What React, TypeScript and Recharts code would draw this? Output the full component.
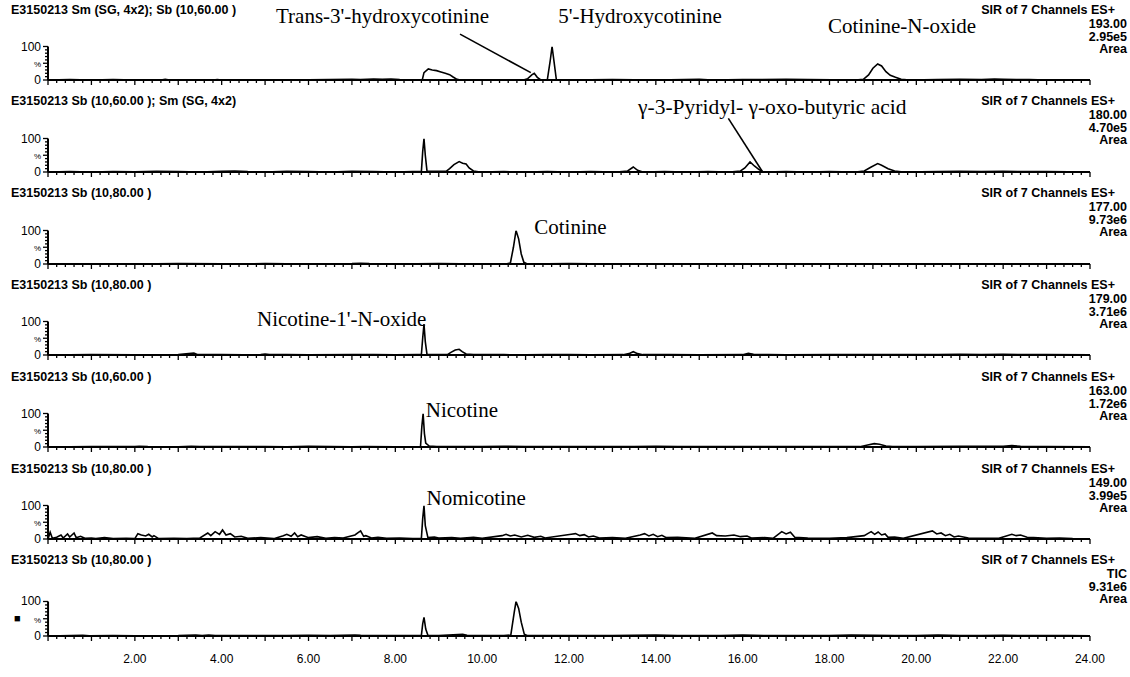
import React from 'react';
import { LineChart, Line, XAxis, YAxis, ReferenceLine } from 'recharts';

// ---------- data (time in min, relative intensity %) ----------
const ch193: number[][] = [
  [0,0],[0.5,1],[1,0],[1.5,1],[2,0],[2.6,0],[2.7,2],[2.8,0],[3.8,0],[3.9,1.5],[4.0,0],[5.5,0],[6.5,1],[7.0,2],[7.2,1],[7.5,3],[7.7,2],[7.9,3],[8.1,1],[8.5,0],
  [8.62,0],[8.66,22],[8.76,33],[8.85,30],[8.95,28],[9.05,24],[9.15,20],[9.25,16],[9.33,9],[9.42,2],[9.5,0],
  [10.95,0],[11.05,4],[11.15,16],[11.2,20],[11.27,8],[11.35,0],
  [11.5,0],[11.57,60],[11.61,100],[11.65,60],[11.71,0],
  [12,0],[13,1],[14.0,0],[15,2],[15.3,0],[16,1],[17,2],[17.5,1],[18.6,0],
  [18.78,2],[18.9,15],[19.0,35],[19.11,48],[19.2,42],[19.3,25],[19.4,14],[19.52,8],[19.65,2],[19.85,0],
  [20.5,1],[21,2],[21.5,1],[21.8,3],[22.0,2],[22.3,1],[22.6,1],[23,0],[24,0],
];
const ch180: number[][] = [
  [0,0],[0.5,1],[1,0],[1.5,1.5],[2,0.5],[2.5,2],[3,1],[3.5,0],[4,2],[4.3,3],[4.6,1],[5,0],[5.5,2],[6,1],[6.5,0],[7,2],[7.5,1],[8,0],[8.4,1],
  [8.6,1],[8.63,60],[8.66,100],[8.69,50],[8.73,2],
  [9.17,2],[9.25,10],[9.35,22],[9.47,31],[9.55,26],[9.63,24],[9.7,12],[9.8,3],[9.95,0],[10.5,1],[11,0],[11.5,1],[12,0],[12.5,1],[13.1,0],
  [13.35,3],[13.48,15],[13.58,5],[13.7,0],[14.2,1],[14.7,0],[15.2,1],[15.7,0],[15.95,3],[16.05,12],[16.17,30],[16.27,18],[16.37,8],[16.47,0],
  [17,1],[17.5,0],[18,1],[18.6,0],[18.8,3],[18.95,14],[19.11,25],[19.2,20],[19.35,10],[19.5,3],[19.7,0],[20.5,1],[21,2],[21.5,1],[22,2],[22.5,1],[23,1],[24,0],
];
const ch177: number[][] = [
  [0,0],[2,0],[3,1],[4,0.5],[5,1],[6,0],[7,1],[7.2,2],[7.4,1],[8,0],[9,1],[10,0],[10.55,0],
  [10.65,3],[10.72,50],[10.78,100],[10.84,75],[10.9,30],[10.96,5],[11.04,0],
  [12,1],[13,0],[14,0],[16,0.5],[18,0],[20,0],[22,0.5],[24,0],
];
const ch179: number[][] = [
  [0,0],[1,1],[2,0.5],[3,1],[3.36,6],[3.45,1],[4,1],[4.5,0.5],[4.9,1],[5.0,3],[5.1,1],[5.5,1],[6,0.5],[7,1],[7.5,1.5],[8,0.5],[8.5,1],
  [8.6,1],[8.63,50],[8.66,92],[8.69,40],[8.73,1],[9.2,1],[9.28,8],[9.38,15],[9.47,17],[9.54,10],[9.63,3],[9.8,1],
  [10.5,1],[11,0.5],[11.5,1],[12,1],[12.5,0.5],[13.25,1],[13.38,4],[13.48,10],[13.58,4],[13.7,1],[14.3,1],[15,0.5],[16.0,1],[16.13,5],[16.25,2],[16.6,1],[17,0.5],
  [18,1],[18.5,1.5],[19,1],[20,1],[20.5,1.5],[21,2],[21.5,1],[22,2],[22.5,1],[23,1],[24,0.5],
];
const ch163: number[][] = [
  [0,0],[1,1],[2,1],[2.1,2],[2.3,1],[3,0.5],[3.3,2],[3.5,1],[4.5,1],[5,1.5],[5.5,0.5],[6,2],[6.5,1],[7,0.5],[7.3,1.5],[8,0.5],[8.58,1],
  [8.61,60],[8.64,100],[8.67,40],[8.7,12],[8.78,3],[8.95,1],[9.5,1.5],[10,1],[10.5,2],[11,1],[11.5,1],[12,1.5],[12.5,1],[13,1],[13.5,1.5],[14,2],[14.5,1],
  [15,1],[16,1.5],[17,1],[18,1],[18.7,1],[18.88,6],[19.03,10],[19.15,8],[19.3,3],[19.45,1],[20,1.5],[21,2],[21.5,2],[22,2],[22.2,4],[22.4,2],[23,1],[24,0.5],
];
const ch149: number[][] = [
  [0,0],[0.05,20],[0.1,2],[0.2,5],[0.3,12],[0.35,3],[0.45,15],[0.5,6],[0.6,18],[0.65,4],[0.75,8],[0.85,2],[1.0,3],[1.1,1],[1.3,4],[1.5,1],[1.8,2],[2.0,1],
  [2.07,16],[2.15,12],[2.25,9],[2.32,14],[2.4,6],[2.44,10],[2.55,1],[2.9,2],[3.2,1],[3.5,3],
  [3.68,18],[3.75,10],[3.85,22],[3.95,14],[4.02,27],[4.1,12],[4.2,16],[4.3,6],[4.45,8],[4.6,2],[4.9,4],[5.2,1],
  [5.42,10],[5.5,14],[5.6,8],[5.68,18],[5.75,7],[5.83,12],[6.0,4],[6.2,7],[6.4,2],[6.6,4],[6.8,3],
  [7.07,12],[7.15,20],[7.2,24],[7.27,8],[7.32,10],[7.45,3],[7.6,5],[7.8,2],[8.1,3],[8.4,1],
  [8.6,2],[8.63,60],[8.66,100],[8.69,40],[8.75,4],[8.9,6],[9.0,3],[9.3,4],[9.5,2],[9.8,5],[10.0,2],
  [10.46,10],[10.55,14],[10.65,9],[10.75,12],[10.9,6],[11.05,11],[11.2,5],[11.35,8],[11.45,3],
  [12.05,14],[12.15,16],[12.25,10],[12.35,13],[12.45,6],[12.56,9],[12.7,3],[13.0,4],[13.3,2],
  [13.64,12],[13.74,16],[13.84,9],[13.94,14],[14.04,7],[14.14,11],[14.24,4],[14.5,5],[14.9,2],
  [15.3,18],[15.4,10],[15.6,9],[15.8,12],[15.95,7],[16.1,9],[16.2,3],[16.5,4],[16.7,2],
  [16.9,22],[17.0,15],[17.1,20],[17.2,5],[17.5,3],[18.0,2],[18.4,4],
  [18.8,10],[18.88,16],[18.96,22],[19.04,14],[19.12,21],[19.2,12],[19.28,15],[19.35,5],[19.5,6],[19.7,2],
  [20.37,24],[20.47,15],[20.57,18],[20.67,10],[20.77,14],[20.87,6],[20.97,9],[21.2,3],[21.6,2],[21.9,2],
  [22.2,14],[22.3,10],[22.4,12],[22.55,5],[22.7,4],[23.0,2],[23.3,3],[23.6,1],[24,0],
];
const chTIC: number[][] = [
  [0,0],[0.8,2],[0.95,0.5],[1.5,1],[2,0.5],[3,1],[3.4,3],[3.55,1],[3.7,3],[3.85,1],[4.5,1],[5,1.5],[5.5,1],[6,2],[6.5,1],[7.07,3],[7.2,2],[7.4,1.5],[8,1],[8.5,1],
  [8.6,2],[8.63,35],[8.66,54],[8.7,20],[8.75,2],[9.0,1],[9.55,5],[9.65,2],[10,1],[10.5,1],
  [10.66,3],[10.74,70],[10.78,100],[10.84,80],[10.9,40],[10.97,5],[11.05,1],
  [11.5,1],[12,1.5],[12.5,1],[13,1.5],[13.5,2],[14,3],[14.5,1],[15,1],[15.5,1.5],[16,3],[16.5,1],[17,1],[17.5,1],[18,1.5],[18.5,3],[19,2],[19.5,1],[20,1],
  [20.5,2.5],[21,1.5],[21.5,1],[22,2],[22.5,1],[23,1],[23.5,1],[24,0.5],
];

const series = [ch193, ch180, ch177, ch179, ch163, ch149, chTIC];
const titles = [
  'E3150213 Sm (SG, 4x2); Sb (10,60.00 )',
  'E3150213 Sb (10,60.00 ); Sm (SG, 4x2)',
  'E3150213 Sb (10,80.00 )',
  'E3150213 Sb (10,80.00 )',
  'E3150213 Sb (10,60.00 )',
  'E3150213 Sb (10,80.00 )',
  'E3150213 Sb (10,80.00 )',
];
const channelLabels = ['193.00', '180.00', '177.00', '179.00', '163.00', '149.00', 'TIC'];
const areaLabels = ['2.95e5', '4.70e5', '9.73e6', '3.71e6', '1.72e6', '3.99e5', '9.31e6'];
const xLabelValues = [2, 4, 6, 8, 10, 12, 14, 16, 18, 20, 22, 24];
const xLabels = ['2.00', '4.00', '6.00', '8.00', '10.00', '12.00', '14.00', '16.00', '18.00', '20.00', '22.00', '24.00'];
const yTicks = [0, 10, 20, 30, 40, 50, 60, 70, 80, 90, 100];
const xTicks = Array.from({ length: 121 }, (_, k) => k / 5);

// ---------- layout ----------
const W = 1130;
const PITCH = 91.8;
const PLOT_L = 48;
const PLOT_R = 1090;
const SANS = '"Liberation Sans", Arial, sans-serif';
const SERIF = '"Liberation Serif", "Times New Roman", serif';
const px = (t: number) => PLOT_L + (t / 24) * (PLOT_R - PLOT_L);

const Txt = ({ x, y, size, font, right, children, weight }: any) => (
  <div
    style={{
      position: 'absolute',
      top: y - size * 0.6,
      ...(right ? { right: W - x } : { left: x }),
      fontSize: size,
      lineHeight: `${size * 1.2}px`,
      fontFamily: font,
      fontWeight: weight || 'normal',
      whiteSpace: 'nowrap',
      color: '#000',
    }}
  >
    {children}
  </div>
);

const makeXTick = (showLabels: boolean) => (props: any) => {
  const { x, y, payload } = props;
  const k = Math.round(payload.value * 5);
  const major = k % 5 === 0;
  const idx = xLabelValues.indexOf(k / 5);
  const lab = showLabels && k % 10 === 0 && idx >= 0 ? xLabels[idx] : null;
  return (
    <g>
      <line x1={x} x2={x} y1={y} y2={y + (major ? 5 : 3)} stroke="#000" strokeWidth={1.3} />
      {lab && (
        <text x={x} y={y + 27} textAnchor="middle" fontSize={12} fontFamily={SANS} fill="#000">
          {lab}
        </text>
      )}
    </g>
  );
};

const YTick = (props: any) => {
  const { x, y, payload } = props;
  const v = payload.value;
  const major = v === 0 || v === 50 || v === 100;
  const lab = v === 100 ? '100' : v === 50 ? '%' : v === 0 ? '0' : null;
  return (
    <g>
      <line x1={x} x2={x - (major ? 5 : 3)} y1={y} y2={y} stroke="#000" strokeWidth={1.3} />
      {lab && (
        <text x={x - 7} y={y + 4} textAnchor="end" fontSize={lab === '%' ? 8 : 12} fontFamily={SANS} fill="#000">
          {lab}
        </text>
      )}
    </g>
  );
};

const Panel = ({ k }: { k: number }) => {
  const last = k === series.length - 1;
  const H = last ? 677 - PITCH * k : 92;
  const top100 = last ? 50.5 : 46.5;
  const zero = last ? 85 : 80;
  const xh = 10;
  const data = series[k].map(([t, v]) => ({ t, v }));
  return (
    <div style={{ position: 'absolute', left: 0, top: PITCH * k, width: W, height: H }}>
      <LineChart
        width={W}
        height={H}
        data={data}
        margin={{ top: top100, right: W - PLOT_R, left: 0, bottom: H - zero - xh }}
      >
        <XAxis
          dataKey="t"
          type="number"
          domain={[0, 24]}
          ticks={xTicks}
          interval={0}
          tickSize={0}
          tickMargin={0}
          height={xh}
          axisLine={{ stroke: '#000', strokeWidth: 2 }}
          tickLine={false}
          tick={makeXTick(last)}
          allowDataOverflow
        />
        <YAxis
          type="number"
          domain={[0, 100]}
          ticks={yTicks}
          interval={0}
          width={PLOT_L}
          tickSize={0}
          tickMargin={0}
          axisLine={{ stroke: '#000', strokeWidth: 2 }}
          tickLine={false}
          tick={YTick}
          allowDataOverflow
        />
        {k === 0 && (
          <ReferenceLine
            segment={[{ x: 9.49, y: 137 }, { x: 11.12, y: 22 }]}
            stroke="#000"
            strokeWidth={1.6}
            ifOverflow="visible"
          />
        )}
        {k === 1 && (
          <ReferenceLine
            segment={[{ x: 15.67, y: 160 }, { x: 16.46, y: 0 }]}
            stroke="#000"
            strokeWidth={1.6}
            ifOverflow="visible"
          />
        )}
        <Line
          dataKey="v"
          type="linear"
          stroke="#000"
          strokeWidth={1.6}
          dot={false}
          isAnimationActive={false}
        />
      </LineChart>
      <Txt x={11} y={10} size={12.5} font={SANS} weight="bold">{titles[k]}</Txt>
      <Txt x={1115} y={10} size={12.5} font={SANS} weight="bold" right>SIR of 7 Channels ES+</Txt>
      <Txt x={1127} y={24} size={12.5} font={SANS} weight="bold" right>{channelLabels[k]}</Txt>
      <Txt x={1127} y={37} size={12.5} font={SANS} weight="bold" right>{areaLabels[k]}</Txt>
      <Txt x={1127} y={49} size={12.5} font={SANS} weight="bold" right>Area</Txt>
      {last && <Txt x={14} y={68} size={11} font={SANS}>■</Txt>}
    </div>
  );
};

export default function App() {
  return (
    <div style={{ position: 'absolute', left: 0, top: 0, width: W, height: 677, background: '#fff', overflow: 'hidden' }}>
      {series.map((_, k) => (
        <Panel key={k} k={k} />
      ))}
      <Txt x={276} y={17} size={21} font={SERIF}>Trans-3'-hydroxycotinine</Txt>
      <Txt x={px(11.75)} y={17} size={21} font={SERIF}>5'-Hydroxycotinine</Txt>
      <Txt x={828} y={27} size={21} font={SERIF}>Cotinine-N-oxide</Txt>
      <Txt x={638} y={PITCH + 16} size={21.5} font={SERIF}>γ-3-Pyridyl- γ-oxo-butyric acid</Txt>
      <Txt x={px(11.2)} y={PITCH * 2 + 44} size={21} font={SERIF}>Cotinine</Txt>
      <Txt x={257} y={PITCH * 3 + 44} size={21} font={SERIF}>Nicotine-1'-N-oxide</Txt>
      <Txt x={px(8.7)} y={PITCH * 4 + 43} size={21} font={SERIF}>Nicotine</Txt>
      <Txt x={px(8.72)} y={PITCH * 5 + 40} size={21} font={SERIF}>Nomicotine</Txt>
    </div>
  );
}
